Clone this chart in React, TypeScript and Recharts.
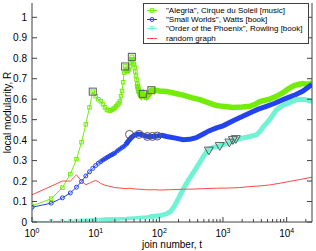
import { Legend, Line, LineChart, XAxis, YAxis } from "recharts";

const FONT = "'Liberation Sans', Arial, Helvetica, sans-serif";
const AXIS = "#404040";
const GREEN = "#74ec0a";
const BLUE = "#2343ee";
const CYAN = "#72f2d4";
const RED = "#ff4848";
const MARK = "#5a5a5a";

// [join number t, local modularity R]
const alegria: [number, number][] = [
  [1, 0.078], [2, 0.114], [3, 0.168], [4, 0.234], [5, 0.307], [6, 0.39], [7, 0.477],
  [8, 0.56], [9, 0.637], [10, 0.614], [11, 0.6], [12, 0.59], [13, 0.575], [14, 0.56],
  [15, 0.549], [16, 0.545], [17, 0.544], [18, 0.548], [19, 0.553], [20, 0.558],
  [21, 0.565], [22, 0.572], [23, 0.58], [24, 0.59], [25, 0.615], [26, 0.64],
  [27, 0.683], [28, 0.73], [29, 0.76], [30, 0.74], [31, 0.735], [32, 0.738],
  [33, 0.745], [34, 0.76], [35, 0.78], [36, 0.795], [37, 0.807], [38, 0.795],
  [39, 0.78], [40, 0.77], [41, 0.755], [42, 0.735], [43, 0.715], [44, 0.695],
  [45, 0.675], [46, 0.66], [47, 0.645], [48, 0.635], [50, 0.622], [52, 0.615],
  [55, 0.626], [58, 0.612], [62, 0.608], [66, 0.615], [70, 0.628], [75, 0.644],
  [85, 0.645], [100, 0.64], [130, 0.638], [180, 0.628], [237, 0.62], [320, 0.608],
  [432, 0.598], [600, 0.582], [789, 0.569], [1000, 0.565], [1440, 0.56], [2000, 0.562],
  [2630, 0.565], [3200, 0.575], [3770, 0.588], [5400, 0.6], [7000, 0.615],
  [8750, 0.632], [10500, 0.65], [12600, 0.664], [15000, 0.672], [18000, 0.676],
  [21000, 0.672], [25000, 0.68],
];

const smallWorlds: [number, number][] = [
  [1, 0.072], [2, 0.092], [3, 0.118], [4, 0.142], [5, 0.17], [6, 0.198], [7, 0.225],
  [8, 0.245], [9, 0.262], [10, 0.276], [11, 0.287], [12, 0.295], [13, 0.303],
  [14, 0.309], [15, 0.315], [16, 0.32], [17, 0.325], [18, 0.329], [19, 0.333],
  [20, 0.337], [22, 0.348], [24, 0.356], [26, 0.364], [28, 0.37], [30, 0.38],
  [32, 0.392], [34, 0.402], [37, 0.415], [41, 0.425], [46, 0.43], [52, 0.428],
  [58, 0.422], [65, 0.418], [78, 0.418], [93, 0.42], [110, 0.424], [130, 0.418],
  [180, 0.41], [237, 0.402], [300, 0.404], [380, 0.412], [490, 0.43], [600, 0.445],
  [790, 0.46], [1000, 0.47], [1440, 0.495], [2000, 0.515], [2630, 0.533],
  [3500, 0.55], [4800, 0.565], [6500, 0.58], [8750, 0.598], [11000, 0.61],
  [14000, 0.623], [18000, 0.64], [22000, 0.66], [25000, 0.672],
];

const phoenix: [number, number][] = [
  [1, 0], [2, 0.002], [3, 0.003], [4, 0.004], [5, 0.005], [6, 0.006], [7, 0.006],
  [8, 0.007], [9, 0.008], [10, 0.008], [11, 0.009], [12, 0.01], [13, 0.01],
  [14, 0.011], [15, 0.012], [16, 0.012], [18, 0.013], [20, 0.014], [25, 0.016],
  [30, 0.017], [40, 0.02], [50, 0.022], [70, 0.026], [100, 0.03], [130, 0.04],
  [150, 0.052], [170, 0.075], [200, 0.115], [237, 0.16], [280, 0.2], [340, 0.24],
  [420, 0.285], [490, 0.32], [580, 0.352], [700, 0.365], [890, 0.372], [1100, 0.382],
  [1260, 0.39], [1430, 0.398], [1590, 0.403], [2000, 0.41], [2630, 0.418],
  [3350, 0.426], [3800, 0.442], [4300, 0.465], [5400, 0.5], [6900, 0.548],
  [8500, 0.568], [11000, 0.582], [14000, 0.597], [17000, 0.6], [20000, 0.598],
  [25000, 0.59],
];

const randomGraph: [number, number][] = [
  [1, 0.133], [2, 0.175], [3, 0.2], [4, 0.2], [5, 0.23], [6, 0.2], [7, 0.182],
  [8, 0.19], [9, 0.198], [10, 0.203], [11, 0.197], [12, 0.188], [14, 0.18],
  [16, 0.175], [18, 0.172], [20, 0.168], [24, 0.166], [30, 0.163], [35, 0.165],
  [40, 0.162], [50, 0.16], [60, 0.158], [71, 0.157], [85, 0.158], [100, 0.156],
  [150, 0.158], [237, 0.16], [350, 0.161], [500, 0.163], [790, 0.165], [1200, 0.166],
  [1800, 0.168], [2630, 0.173], [4000, 0.177], [5400, 0.181], [8000, 0.19],
  [11000, 0.198], [16000, 0.207], [25000, 0.219],
];

// points picked out with large gray markers
const alegriaMarked: [number, number][] = [[9, 0.637], [29, 0.76], [37, 0.807], [55, 0.626], [75, 0.644]];
const smallWorldsMarked: [number, number][] = [[34, 0.428], [48, 0.428], [65, 0.418], [78, 0.418], [93, 0.42]];
const phoenixMarked: [number, number][] = [[600, 0.347], [890, 0.369], [1260, 0.386], [1430, 0.398], [1590, 0.403]];

const xMajor = [1, 10, 100, 1000, 10000];
const xMinor = [
  2, 3, 4, 5, 6, 7, 8, 9, 20, 30, 40, 50, 60, 70, 80, 90, 200, 300, 400, 500, 600, 700,
  800, 900, 2000, 3000, 4000, 5000, 6000, 7000, 8000, 9000, 20000,
];
const xTicks = [...xMajor, ...xMinor].sort((a, b) => a - b);
const yTicks = [0, 0.1, 0.2, 0.3, 0.4, 0.5, 0.6, 0.7, 0.8, 0.9, 1];
const yLabels = ["0", "0.1", "0.2", "0.3", "0.4", "0.5", "0.6", "0.7", "0.8", "0.9", "1"];

const legendNames = [
  '"Alegria", Cirque du Soleil [music]',
  '"Small Worlds", Watts [book]',
  '"Order of the Phoenix", Rowling [book]',
  "random graph",
];

const rows = (pts: [number, number][]) => pts.map(([t, r]) => ({ t, r }));
const between = (pts: [number, number][], min: number, max: number) =>
  rows(pts.filter(([t]) => t >= min && t <= max));

const square = (size: number, stroke: string) => (p: any) => (
  <rect key={p.index} x={p.cx - size / 2} y={p.cy - size / 2} width={size} height={size}
    fill="none" stroke={stroke} strokeWidth={1} />
);
const circle = (r: number, stroke: string) => (p: any) => (
  <circle key={p.index} cx={p.cx} cy={p.cy} r={r} fill="none" stroke={stroke} strokeWidth={1} />
);
const triangle = (s: number, stroke: string) => (p: any) => (
  <path key={p.index}
    d={`M${p.cx - s / 2},${p.cy - s * 0.43}L${p.cx + s / 2},${p.cy - s * 0.43}L${p.cx},${p.cy + s * 0.43}Z`}
    fill="none" stroke={stroke} strokeWidth={1} />
);

function BottomTick({ x, y, payload }: any) {
  const major = xMajor.includes(payload.value);
  return (
    <g>
      <line x1={x} x2={x} y1={y} y2={y - (major ? 5 : 3)} stroke={AXIS} />
      {major && (
        <text x={x} y={y + 15} textAnchor="middle" fontSize={10} fontFamily={FONT} fill="#000">
          10<tspan dy={-4} fontSize={7}>{Math.round(Math.log10(payload.value))}</tspan>
        </text>
      )}
    </g>
  );
}

function TopTick({ x, y, payload }: any) {
  const major = xMajor.includes(payload.value);
  return <line x1={x} x2={x} y1={y} y2={y + (major ? 5 : 3)} stroke={AXIS} />;
}

function LeftTick({ x, y, payload, index }: any) {
  return (
    <g>
      <line x1={x} x2={x + 5} y1={y} y2={y} stroke={AXIS} />
      <text x={x - 5} y={y} dy="0.36em" textAnchor="end" fontSize={10} fontFamily={FONT} fill="#000">
        {yLabels[index] ?? payload.value}
      </text>
    </g>
  );
}

function RightTick({ x, y }: any) {
  return <line x1={x} x2={x - 5} y1={y} y2={y} stroke={AXIS} />;
}

function LegendBox() {
  const samples = [square(3.5, GREEN), circle(2, BLUE), triangle(4, CYAN), null];
  const colors = [GREEN, BLUE, CYAN, RED];
  return (
    <div style={{
      width: 166, height: 41, boxSizing: "border-box", border: `1px solid ${AXIS}`,
      background: "#fff", paddingTop: 2, fontFamily: FONT, fontSize: 8, color: "#000",
    }}>
      {legendNames.map((name, i) => (
        <div key={name} style={{ display: "flex", alignItems: "center", height: 9.2, whiteSpace: "nowrap" }}>
          <svg width={22} height={9} style={{ flex: "none" }}>
            <line x1={3} x2={13} y1={4.5} y2={4.5} stroke={colors[i]} strokeWidth={1} />
            {samples[i] && samples[i]!({ cx: 8, cy: 4.5, index: 0 })}
          </svg>
          <span>{name}</span>
        </div>
      ))}
    </div>
  );
}

const common = {
  xAxisId: "b",
  yAxisId: "l",
  dataKey: "r",
  type: "linear" as const,
  isAnimationActive: false,
  activeDot: false as const,
  legendType: "none" as const,
};

export default function App() {
  return (
    <div style={{ position: "absolute", left: 0, top: 0, background: "#fff" }}>
      <LineChart width={316} height={251} margin={{ top: 3, right: 0, bottom: 0, left: 0 }}>
        <XAxis xAxisId="b" dataKey="t" type="number" scale="log" domain={[1, 25000]}
          allowDataOverflow ticks={xTicks} interval={0} tickSize={0} tickMargin={0}
          tickLine={false} height={29} axisLine={{ stroke: AXIS }} tick={<BottomTick />}
          label={{
            content: ({ viewBox }: any) => (
              <text x={viewBox.x + viewBox.width / 2} y={viewBox.y + 26} textAnchor="middle"
                fontSize={10} fontFamily={FONT} fill="#000">join number, t</text>
            ),
          }} />
        <XAxis xAxisId="t" orientation="top" dataKey="t" type="number" scale="log"
          domain={[1, 25000]} allowDataOverflow ticks={xTicks} interval={0} tickSize={0}
          tickMargin={0} tickLine={false} height={0} axisLine={{ stroke: AXIS }} tick={<TopTick />} />
        <YAxis yAxisId="l" type="number" domain={[0, 1.07]} allowDataOverflow ticks={yTicks}
          interval={0} tickSize={0} tickMargin={0} tickLine={false} width={32}
          axisLine={{ stroke: AXIS }} tick={<LeftTick />}
          label={{
            content: ({ viewBox }: any) => {
              const cx = 7;
              const cy = viewBox.y + viewBox.height / 2;
              return (
                <text x={cx} y={cy} dy="0.36em" textAnchor="middle" transform={`rotate(-90 ${cx} ${cy})`}
                  fontSize={10} fontFamily={FONT} fill="#000">local modularity, R</text>
              );
            },
          }} />
        <YAxis yAxisId="r" orientation="right" type="number" domain={[0, 1.07]} allowDataOverflow
          ticks={yTicks} interval={0} tickSize={0} tickMargin={0} tickLine={false} width={4}
          axisLine={{ stroke: AXIS }} tick={<RightTick />} />

        <Line {...common} data={between(alegria, 45, 25000)} stroke={GREEN} strokeWidth={5.5} dot={false} />
        <Line {...common} data={between(alegria, 1, 75)} stroke={GREEN} strokeWidth={1} dot={square(3.5, GREEN)} />

        <Line {...common} data={between(smallWorlds, 12, 34)} stroke={BLUE} strokeWidth={2.5} dot={false} />
        <Line {...common} data={between(smallWorlds, 30, 25000)} stroke={BLUE} strokeWidth={5} dot={false} />
        <Line {...common} data={between(smallWorlds, 1, 40)} stroke={BLUE} strokeWidth={1} dot={circle(2, BLUE)} />

        <Line {...common} data={between(phoenix, 12, 100)} stroke={CYAN} strokeWidth={3.5} dot={false} />
        <Line {...common} data={between(phoenix, 70, 25000)} stroke={CYAN} strokeWidth={5} dot={false} />
        <Line {...common} data={between(phoenix, 1, 20)} stroke={CYAN} strokeWidth={1} dot={triangle(4, CYAN)} />

        <Line {...common} data={rows(randomGraph)} stroke={RED} strokeWidth={1} dot={false} />

        <Line {...common} data={rows(alegriaMarked)} stroke="none" dot={square(7, MARK)} />
        <Line {...common} data={rows(smallWorldsMarked)} stroke="none" dot={circle(4, MARK)} />
        <Line {...common} data={rows(phoenixMarked)} stroke="none" dot={triangle(9, MARK)} />

        <Legend layout="vertical" align="center" verticalAlign="middle" content={<LegendBox />}
          wrapperStyle={{ left: 143, top: 3, width: 166 }} />
      </LineChart>
    </div>
  );
}
